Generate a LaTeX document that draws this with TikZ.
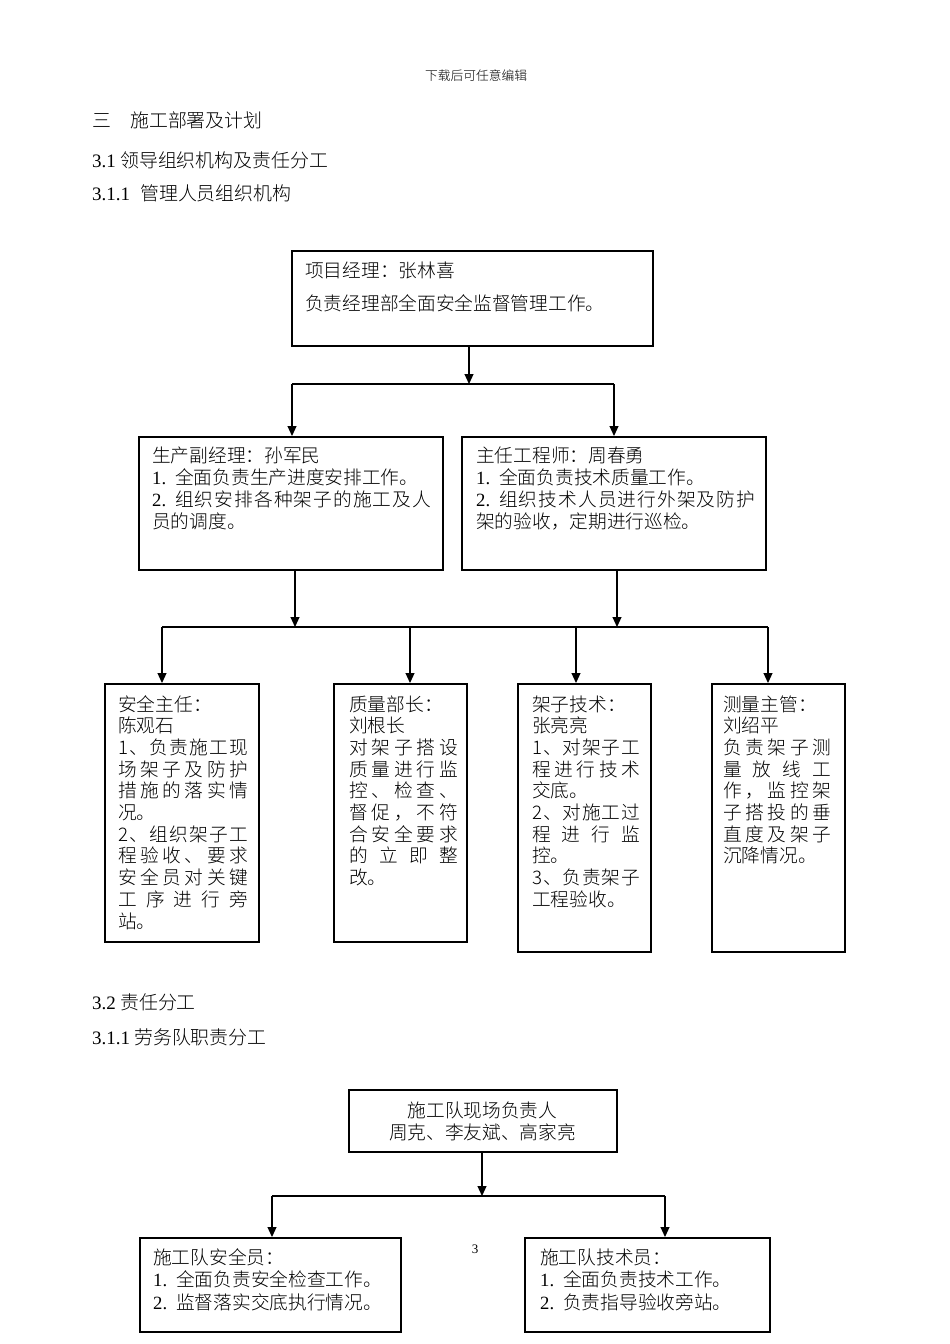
\documentclass[tikz,border=0pt]{standalone}
\usepackage{fontspec}
\setmainfont{Liberation Serif}
\newfontfamily\cjk{Noto Sans CJK SC}[UprightFont={Noto Sans CJK SC Light}]
\usetikzlibrary{arrows.meta}
\def\jlA#1#2\jlE{#1\ifx\relax#2\relax\else\hfill\jlA#2\jlE\fi}
\newcommand\jl[2]{\hbox to #1pt{\jlA#2\jlE}}
\newcommand\lns[2]{\vtop{\baselineskip=#1pt\lineskiplimit=-100pt\lineskip=0pt\halign{##\hfil\cr#2\crcr}}}
\newcommand\clns[2]{\vtop{\baselineskip=#1pt\lineskiplimit=-100pt\lineskip=0pt\halign{\hfil##\hfil\cr#2\crcr}}}
\newcommand\pre[1]{\hbox to 23pt{{\rmfamily #1}\hfil}}
\tikzset{
  box/.style={draw, line width=2pt, inner sep=0pt},
  ln/.style={line width=1.1pt},
  arr/.style={ln, -{Triangle[length=10pt,width=9pt]}},
  txt/.style={inner sep=0pt, anchor=base west, font=\cjk\fontsize{18.7}{22}\selectfont},
  hdn/.style={inner sep=0pt, anchor=base west, font=\fontsize{19}{22}\selectfont},
  hdc/.style={inner sep=0pt, anchor=base west, font=\cjk\fontsize{18.9}{22}\selectfont}
}
\begin{document}
\begin{tikzpicture}[x=1pt,y=-1pt]
\useasboundingbox[fill=white] (0,0) rectangle (950,1344);
% header and headings
\node[inner sep=0pt, anchor=base, font=\cjk\fontsize{12.75}{14}\selectfont] (hdr) at (476,80) {下载后可任意编辑};
\node[hdc] (h1n) at (92,127) {三};
\node[hdc] (h1t) at (130,127) {施工部署及计划};
\node[hdn] (h2n) at (92,167) {3.1};
\node[hdc] (h2t) at (120,167) {\jl{208}{领导组织机构及责任分工}};
\node[hdn] (h3n) at (92,200) {3.1.1};
\node[hdc] (h3t) at (140,200) {管理人员组织机构};
\node[hdn] (h4n) at (92,1009) {3.2};
\node[hdc] (h4t) at (120,1009) {责任分工};
\node[hdn] (h5n) at (92,1044) {3.1.1};
\node[hdc] (h5t) at (134,1044) {劳务队职责分工};
\node[inner sep=0pt, anchor=base, font=\fontsize{13}{15}\selectfont] (pg) at (475,1253) {3};
% boxes
\node[box, minimum width=361pt, minimum height=95pt] (top) at (472.5,298) {};
\node[box, minimum width=304pt, minimum height=133pt] (L1) at (291,503.5) {};
\node[box, minimum width=304pt, minimum height=133pt] (R1) at (614,503.5) {};
\node[box, minimum width=154pt, minimum height=258pt] (B1) at (182,813) {};
\node[box, minimum width=133pt, minimum height=258pt] (B2) at (400.5,813) {};
\node[box, minimum width=133pt, minimum height=268pt] (B3) at (584.5,818) {};
\node[box, minimum width=133pt, minimum height=268pt] (B4) at (778.5,818) {};
\node[box, minimum width=268pt, minimum height=62pt] (T) at (482.5,1121) {};
\node[box, minimum width=261pt, minimum height=94pt] (BL) at (270.5,1285) {};
\node[box, minimum width=245pt, minimum height=94pt] (BR) at (647.5,1285) {};
% texts
\node[txt] (ttop) at (305,277) {\lns{33}{项目经理：张林喜\cr 负责经理部全面安全监督管理工作。}};
\node[txt] (tL1) at (152,462) {\lns{22.3}{生产副经理：孙军民\cr
  \pre{1.}全面负责生产进度安排工作。\cr
  \pre{2.}\jl{256}{组织安排各种架子的施工及人}\cr
  员的调度。}};
\node[txt] (tR1) at (476,462) {\lns{22.3}{主任工程师：周春勇\cr
  \pre{1.}全面负责技术质量工作。\cr
  \pre{2.}\jl{256}{组织技术人员进行外架及防护}\cr
  架的验收，定期进行巡检。}};
\node[txt] (tB1) at (118,711) {\lns{21.7}{安全主任：\cr 陈观石\cr
  \jl{130}{1、负责施工现}\cr \jl{130}{场架子及防护}\cr \jl{130}{措施的落实情}\cr 况。\cr
  \jl{130}{2、组织架子工}\cr \jl{130}{程验收、要求}\cr \jl{130}{安全员对关键}\cr \jl{130}{工序进行旁}\cr 站。}};
\node[txt] (tB2) at (349,711) {\lns{21.7}{质量部长：\cr 刘根长\cr
  \jl{109}{对架子搭设}\cr \jl{109}{质量进行监}\cr \jl{109}{控、检查、}\cr \jl{109}{督促，不符}\cr
  \jl{109}{合安全要求}\cr \jl{109}{的立即整}\cr 改。}};
\node[txt] (tB3) at (532,711) {\lns{21.7}{架子技术：\cr 张亮亮\cr
  \jl{108}{1、对架子工}\cr \jl{108}{程进行技术}\cr 交底。\cr
  \jl{108}{2、对施工过}\cr \jl{108}{程进行监}\cr 控。\cr
  \jl{108}{3、负责架子}\cr 工程验收。}};
\node[txt] (tB4) at (723,711) {\lns{21.7}{测量主管：\cr 刘绍平\cr
  \jl{108}{负责架子测}\cr \jl{108}{量放线工}\cr \jl{108}{作，监控架}\cr \jl{108}{子搭投的垂}\cr
  \jl{108}{直度及架子}\cr 沉降情况。}};
\node[txt, anchor=base] (tT) at (482.5,1117) {\clns{22}{施工队现场负责人\cr 周克、李友斌、高家亮}};
\node[txt] (tBL) at (153,1264) {\lns{22.5}{施工队安全员：\cr
  \pre{1.}全面负责安全检查工作。\cr
  \pre{2.}监督落实交底执行情况。}};
\node[txt] (tBR) at (540,1264) {\lns{22.5}{施工队技术员：\cr
  \pre{1.}全面负责技术工作。\cr
  \pre{2.}负责指导验收旁站。}};
% connectors, first chart
\coordinate (j1) at (469,384);
\coordinate (j1l) at (292,384);
\coordinate (j1r) at (614,384);
\draw[arr] (top.south -| j1) -- (j1);
\draw[ln] (j1l) -- (j1r);
\draw[arr] (j1l) -- (L1.north -| j1l);
\draw[arr] (j1r) -- (R1.north -| j1r);
\coordinate (j2a) at (295,627);
\coordinate (j2b) at (617,627);
\draw[arr] (L1.south -| j2a) -- (j2a);
\draw[arr] (R1.south -| j2b) -- (j2b);
\coordinate (k1) at (162,627);
\coordinate (k2) at (410,627);
\coordinate (k3) at (576,627);
\coordinate (k4) at (768,627);
\draw[ln] (k1) -- (k4);
\draw[arr] (k1) -- (B1.north -| k1);
\draw[arr] (k2) -- (B2.north -| k2);
\draw[arr] (k3) -- (B3.north -| k3);
\draw[arr] (k4) -- (B4.north -| k4);
% connectors, second chart
\coordinate (m) at (482,1196);
\coordinate (m1) at (272,1196);
\coordinate (m2) at (665,1196);
\draw[arr] (T.south -| m) -- (m);
\draw[ln] (m1) -- (m2);
\draw[arr] (m1) -- (BL.north -| m1);
\draw[arr] (m2) -- (BR.north -| m2);
\end{tikzpicture}
\end{document}
